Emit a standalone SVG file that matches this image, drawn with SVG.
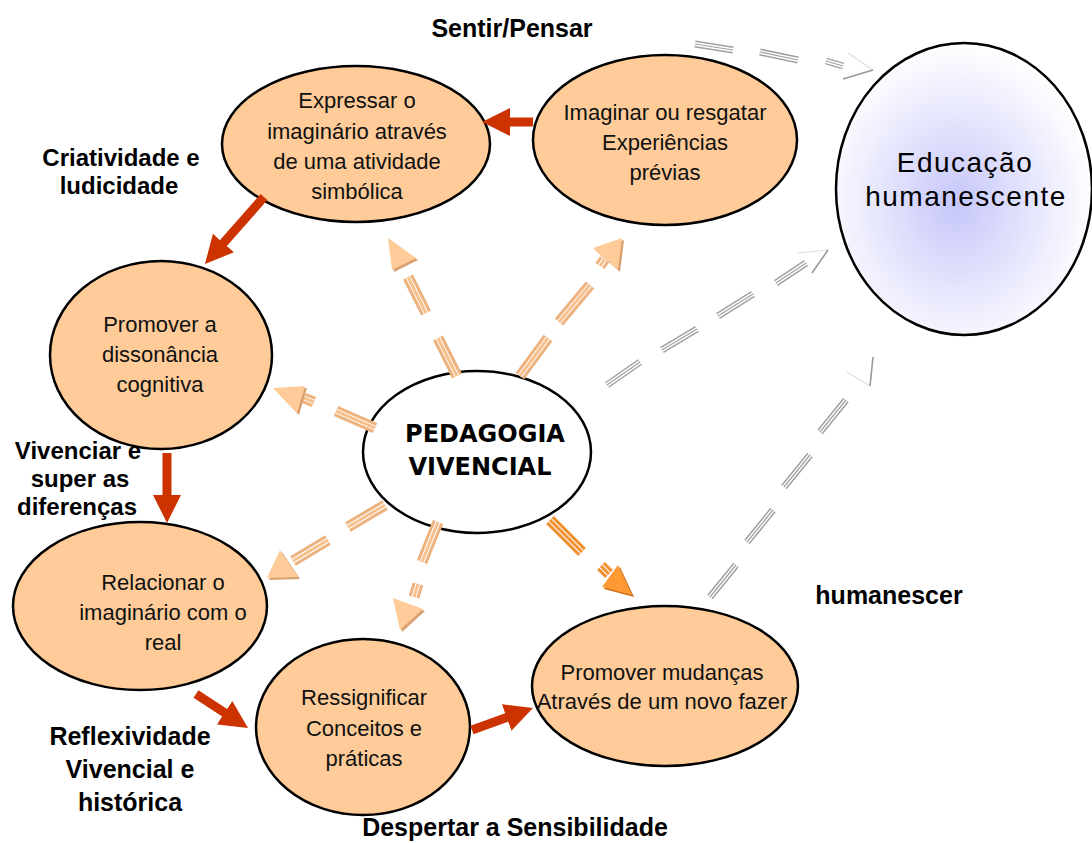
<svg xmlns="http://www.w3.org/2000/svg" width="1092" height="843" viewBox="0 0 1092 843">
<style>
.node{fill:#FFCC99;stroke:#000;stroke-width:2.5}
.nt{font-family:"Liberation Sans",Arial,sans-serif;font-size:22px;fill:#111;text-anchor:middle}
.lbl{font-family:"Liberation Sans",Arial,sans-serif;font-size:25px;font-weight:bold;fill:#000;text-anchor:middle}
.lbs{font-size:24px}
.red{stroke:#CC3300;stroke-width:9;fill:none;marker-end:url(#rh)}
.o1{stroke:#EDB27E;stroke-width:11;fill:none}
.o2{stroke:#fff;stroke-width:5;fill:none}
.o3{stroke:#F7C08C;stroke-width:3;fill:none}
.d1{stroke:#F0902E;stroke-width:11;fill:none}
.d3{stroke:#F0902E;stroke-width:3;fill:none}
.oh{fill:#FFCC99}
.ohs{fill:#D8A070}
.dh{fill:#FF9933}
.dhs{fill:#C86E20}
.g1{stroke:#A0A0A0;stroke-width:7;fill:none}
.g2{stroke:#fff;stroke-width:4;fill:none}
.g3{stroke:#A0A0A0;stroke-width:1.2;fill:none}
.gh{stroke:#999;stroke-width:1.6;fill:none}
.gf{stroke:#DDD;stroke-width:1.2;fill:none}
.edu{font-family:"Liberation Sans",Arial,sans-serif;font-size:28px;letter-spacing:1.5px;text-anchor:middle;fill:#000}
</style>
<defs>
<marker id="rh" markerUnits="userSpaceOnUse" viewBox="0 0 28 28" markerWidth="28" markerHeight="28" refX="6" refY="14" orient="auto"><path d="M0,0 L28,14 L0,28 Z" fill="#CC3300"/></marker>
<radialGradient id="blue" cx="0.47" cy="0.55" r="0.55">
<stop offset="0" stop-color="#C6C6FA"/>
<stop offset="0.55" stop-color="#E6E6FD"/>
<stop offset="1" stop-color="#FFFFFF"/>
</radialGradient>
<path id="pa" d="M457,376 L438,338 M426,313 L408,277"/>
<path id="pb" d="M520,376 L548,338 M559,322 L590,285 M600,266 L604.5,259.4"/>
<path id="pc" d="M375,428 L336,411 M314,402 L304,398"/>
<path id="pd" d="M385,505 L348,527 M328,540 L293,561"/>
<path id="pe" d="M438,522 L422,562 M418,584 L414,597"/>
<path id="pf" d="M550,520 L582,552 M601,566 L609,574"/>
<path id="gp1" d="M695,44 L733,50 M760,52 L798,60 M826,61 L843,66"/>
<path id="gp2" d="M607,385 L640,362 M662,350 L697,329 M718,316 L753,294 M776,283 L806,263"/>
<path id="gp3" d="M710,597 L736,565 M747,542 L773,510 M784,487 L810,455 M820,432 L846,400"/>
</defs>
<rect width="1092" height="843" fill="#fff"/>

<g id="labels">
<text class="lbl" x="512" y="37">Sentir/Pensar</text>
<text class="lbl lbs" x="121" y="166">Criatividade e</text>
<text class="lbl lbs" x="119" y="194">ludicidade</text>
<text class="lbl lbs" x="78" y="459">Vivenciar e</text>
<text class="lbl lbs" x="80" y="487">super as</text>
<text class="lbl lbs" x="77" y="515">diferenças</text>
<text class="lbl" x="130" y="745">Reflexividade</text>
<text class="lbl" x="130" y="778">Vivencial e</text>
<text class="lbl" x="130" y="811">histórica</text>
<text class="lbl" x="515" y="836">Despertar a Sensibilidade</text>
<text class="lbl" x="889" y="604">humanescer</text>
</g>

<g id="node-educacao">
<ellipse cx="964" cy="189" rx="128" ry="146" fill="url(#blue)" stroke="#000" stroke-width="2.5"/>
<text class="edu" x="965" y="172">Educação</text>
<text class="edu" x="966" y="206">humanescente</text>
</g>

<g id="node-expressar">
<ellipse class="node" cx="356" cy="144" rx="134" ry="78"/>
<text class="nt" x="357" y="108">Expressar o</text>
<text class="nt" x="357" y="139">imaginário através</text>
<text class="nt" x="357" y="169">de uma atividade</text>
<text class="nt" x="357" y="199">simbólica</text>
</g>

<g id="node-imaginar">
<ellipse class="node" cx="665" cy="140" rx="132" ry="85"/>
<text class="nt" x="665" y="120">Imaginar ou resgatar</text>
<text class="nt" x="665" y="150">Experiências</text>
<text class="nt" x="665" y="180">prévias</text>
</g>

<g id="node-dissonancia">
<ellipse class="node" cx="161" cy="355" rx="111" ry="94"/>
<text class="nt" x="160" y="332">Promover a</text>
<text class="nt" x="160" y="362">dissonância</text>
<text class="nt" x="160" y="392">cognitiva</text>
</g>

<g id="node-relacionar">
<ellipse class="node" cx="140" cy="606" rx="127" ry="84"/>
<text class="nt" x="163" y="590">Relacionar o</text>
<text class="nt" x="163" y="620">imaginário com o</text>
<text class="nt" x="163" y="650">real</text>
</g>

<g id="node-ressignificar">
<ellipse class="node" cx="363" cy="727" rx="107" ry="88"/>
<text class="nt" x="364" y="705">Ressignificar</text>
<text class="nt" x="364" y="736">Conceitos e</text>
<text class="nt" x="364" y="766">práticas</text>
</g>

<g id="node-mudancas">
<ellipse class="node" cx="665" cy="686" rx="133" ry="80"/>
<text class="nt" x="662" y="680">Promover mudanças</text>
<text class="nt" x="662" y="709">Através de um novo fazer</text>
</g>

<g id="node-pedagogia">
<ellipse cx="477" cy="452" rx="114" ry="81" fill="#fff" stroke="#000" stroke-width="2.5"/>
<text x="485" y="442" font-family="'DejaVu Sans',sans-serif" font-size="24" font-weight="bold" text-anchor="middle" fill="#000">PEDAGOGIA</text>
<text x="480" y="475" font-family="'DejaVu Sans',sans-serif" font-size="24" font-weight="bold" text-anchor="middle" fill="#000">VIVENCIAL</text>
</g>

<g id="connectors">
<line class="red" x1="533" y1="122" x2="504" y2="122"/>
<line class="red" x1="264" y1="197" x2="219.5" y2="247.5"/>
<line class="red" x1="167" y1="453" x2="167" y2="501"/>
<line class="red" x1="196" y1="694" x2="229.6" y2="716"/>
<line class="red" x1="472" y1="730" x2="512.3" y2="715.5"/>

<use href="#pa" class="o1"/><use href="#pa" class="o2"/><use href="#pa" class="o3"/>
<use href="#pb" class="o1"/><use href="#pb" class="o2"/><use href="#pb" class="o3"/>
<use href="#pc" class="o1"/><use href="#pc" class="o2"/><use href="#pc" class="o3"/>
<use href="#pd" class="o1"/><use href="#pd" class="o2"/><use href="#pd" class="o3"/>
<use href="#pe" class="o1"/><use href="#pe" class="o2"/><use href="#pe" class="o3"/>
<use href="#pf" class="d1"/><use href="#pf" class="o2"/><use href="#pf" class="d3"/>

<polygon class="ohs" points="390,240 418,260 394,272"/>
<polygon class="oh" points="388,238 416,258 392,270"/>
<polygon class="ohs" points="624,240 595,250 620,272"/>
<polygon class="oh" points="622,238 593,248 618,270"/>
<polygon class="ohs" points="275,390 307,388 299,415"/>
<polygon class="oh" points="273,388 305,386 297,413"/>
<polygon class="ohs" points="269,580 282,552 300,579"/>
<polygon class="oh" points="267,578 280,550 298,577"/>
<polygon class="ohs" points="402,632 395,600 425,611"/>
<polygon class="oh" points="400,630 393,598 423,609"/>
<polygon class="dhs" points="634,597 604,589 620,567"/>
<polygon class="dh" points="632,595 602,587 618,565"/>

<use href="#gp1" class="g1"/><use href="#gp1" class="g2"/><use href="#gp1" class="g3"/>
<use href="#gp2" class="g1"/><use href="#gp2" class="g2"/><use href="#gp2" class="g3"/>
<use href="#gp3" class="g1"/><use href="#gp3" class="g2"/><use href="#gp3" class="g3"/>
<path class="gf" d="M848,53 L873,70"/>
<path class="gh" d="M843,79 L873,70"/>
<path class="gf" d="M798,253 L828,250"/>
<path class="gh" d="M812,273 L828,250"/>
<path class="gf" d="M847,372 L870,386"/>
<path class="gh" d="M873,357 L870,386"/>
</g>
</svg>
